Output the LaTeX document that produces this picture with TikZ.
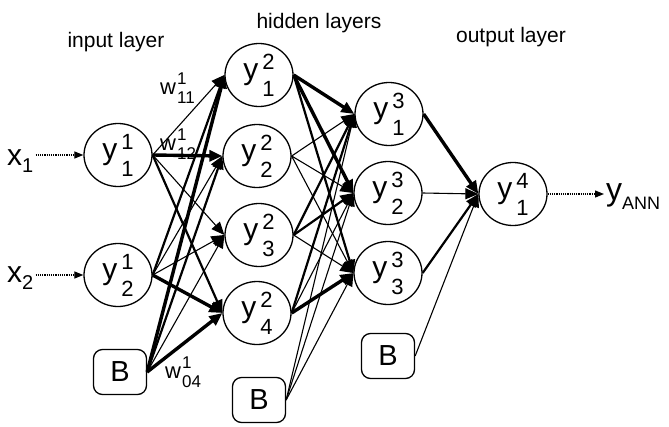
\documentclass[tikz,border=0pt]{standalone}
\usepackage{fontspec}
\setmainfont{Liberation Sans}
\usepackage{tikz}
\usetikzlibrary{arrows.meta,shapes.geometric}

\newcommand{\digfont}{\fontsize{22}{22}\selectfont}
\newcommand{\neu}[2]{y\kern4pt\rlap{\raisebox{10pt}{\digfont #1}}\raisebox{-17pt}{\digfont #2}}
\newcommand{\wlab}[2]{w\kern1pt\rlap{\raisebox{10pt}{\fontsize{17}{17}\selectfont #1}}\raisebox{-9pt}{\fontsize{17}{17}\selectfont #2}}

\begin{document}
\begin{tikzpicture}[
    x=1pt, y=-1pt,
    neuron/.style={draw, ellipse, line width=1.3pt, minimum width=68pt, minimum height=63pt, inner sep=0pt, font=\fontsize{30}{30}\selectfont},
    bias/.style={draw, rounded corners=9pt, line width=1.3pt, minimum width=53pt, minimum height=45pt, inner sep=0pt, font=\fontsize{29}{29}\selectfont},
    layerlab/.style={anchor=base, inner sep=0pt, font=\fontsize{21}{21}\selectfont},
    wt/.style={anchor=base west, inner sep=0pt, font=\fontsize{22}{22}\selectfont},
    io/.style={anchor=base west, inner sep=2pt},
    syn/.style={-{Triangle[length=13pt,width=11pt]}},
    lo/.style={line width=1.1pt},
    mid/.style={line width=2.2pt},
    hi/.style={line width=3.4pt},
    feed/.style={densely dotted, line width=1.2pt, -{Triangle[length=9pt,width=7pt]}}
]
\useasboundingbox (0,0) rectangle (669,426);

\node[layerlab] (inlab) at (116,47) {input layer};
\node[layerlab] (hidlab) at (319,28) {hidden layers};
\node[layerlab] (outlab) at (511,42) {output layer};

\node[neuron] (y11) at (118,155) {\neu{1}{1}};
\node[neuron] (y12) at (118,275) {\neu{1}{2}};
\node[bias] (b1) at (120,372) {B};

\node[neuron] (y21) at (259,75) {\neu{2}{1}};
\node[neuron] (y22) at (257,156) {\neu{2}{2}};
\node[neuron] (y23) at (259,235) {\neu{2}{3}};
\node[neuron] (y24) at (257,313) {\neu{2}{4}};
\node[bias] (b2) at (259,400) {B};

\node[neuron] (y31) at (389,114) {\neu{3}{1}};
\node[neuron] (y32) at (388,193) {\neu{3}{2}};
\node[neuron] (y33) at (388,273) {\neu{3}{3}};
\node[bias] (b3) at (388,356) {B};

\node[neuron] (y41) at (513,194) {\neu{4}{1}};

\node[io, font=\fontsize{30}{30}\selectfont] (x1) at (5,165) {x\raisebox{-7pt}{\fontsize{20}{20}\selectfont 1}};
\node[io, font=\fontsize{30}{30}\selectfont] (x2) at (5,282) {x\raisebox{-7pt}{\fontsize{20}{20}\selectfont 2}};
\node[io, font=\fontsize{32}{32}\selectfont] (yann) at (604,200) {y\raisebox{-9pt}{\fontsize{18}{18}\selectfont ANN}};

\node[wt] (w11) at (160,94) {\wlab{1}{11}};
\node[wt] (w12) at (160,150) {\wlab{1}{12}};
\node[wt] (w04) at (165,378) {\wlab{1}{04}};

\draw[feed] (x1.east |- y11.west) -- (y11.west);
\draw[feed] (x2.east |- y12.west) -- (y12.west);
\draw[feed] (y41.east) -- (yann.west |- y41.east);

\foreach \s/\t/\w in {y11/y21/lo, y11/y22/hi, y11/y23/lo, y11/y24/mid,
                      y12/y21/mid, y12/y22/lo, y12/y23/lo, y12/y24/hi,
                      b1/y21/hi, b1/y22/mid, b1/y23/lo, b1/y24/hi,
                      y21/y31/hi, y21/y32/hi, y21/y33/mid,
                      y22/y31/lo, y22/y32/lo, y22/y33/lo,
                      y23/y31/mid, y23/y32/mid, y23/y33/lo,
                      y24/y31/mid, y24/y32/lo, y24/y33/hi,
                      b2/y31/lo, b2/y32/lo, b2/y33/lo,
                      y31/y41/hi, y32/y41/lo, y33/y41/mid, b3/y41/lo}
    \draw[syn, \w] (\s.east) -- (\t.west);
\end{tikzpicture}
\end{document}
